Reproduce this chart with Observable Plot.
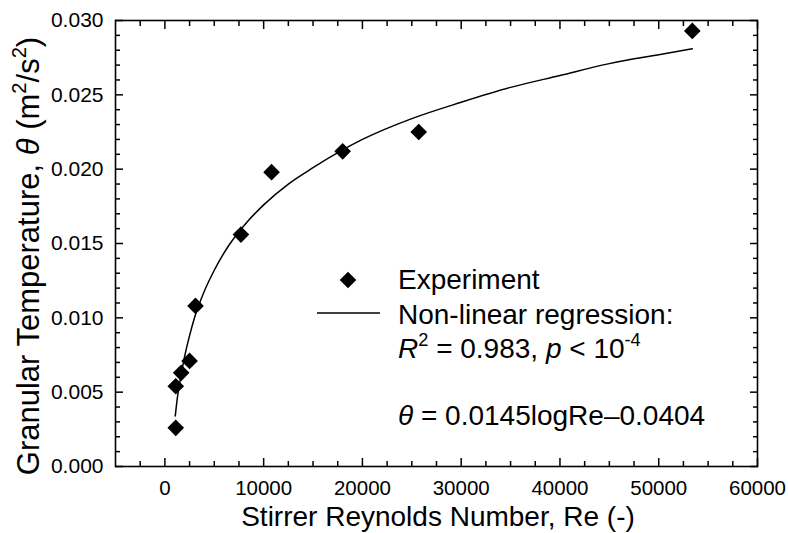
<!DOCTYPE html>
<html><head><meta charset="utf-8">
<script src="https://cdn.jsdelivr.net/npm/d3@7"></script>
<script src="https://cdn.jsdelivr.net/npm/@observablehq/plot@0.6"></script>
<style>
body{margin:0;background:#fff}
svg{font-family:"Liberation Sans",Arial,Helvetica,sans-serif}
</style>
</head><body><div id="chart"></div>
<script>
const expRe    = [1100, 1100, 1650, 2500, 3100, 7700, 10800, 18000, 25700, 53400];
const expTheta = [0.0026, 0.0054, 0.0063, 0.0071, 0.0108, 0.0156, 0.0198, 0.0212, 0.0225, 0.0293];

// Regression curve points
const fitRe    = [1050, 1300, 1600, 2000, 2500, 3000, 4000, 5000, 6500, 8000, 10000, 12500, 15000, 20000, 25000, 30000, 35000, 40000, 45000, 50000, 53400];
const fitTheta = [0.0034, 0.0048, 0.0060, 0.0074, 0.0088, 0.0100, 0.0118, 0.0132, 0.0149, 0.0162, 0.0176, 0.0190, 0.0201, 0.0220, 0.0234, 0.0245, 0.0255, 0.0263, 0.0271, 0.0277, 0.0281];

// Axis ticks
const xMajor = [0, 10000, 20000, 30000, 40000, 50000, 60000];
const xMinor = d3.range(-2500, 60000, 2500).filter(v => v % 10000 !== 0);
const yMajor = [0, 0.005, 0.010, 0.015, 0.020, 0.025, 0.030];
const yMinor = d3.range(1, 30).filter(v => v % 5 !== 0).map(v => v / 1000);

const exp = expRe.map((r, i) => ({Re: r, theta: expTheta[i]}));
const fit = fitRe.map((r, i) => ({Re: r, theta: fitTheta[i]}));

const blank = () => "";
const tickStyle = {strokeWidth: 1.5, label: null, tickFormat: blank};

const plot = Plot.plot({
  width: 788, height: 533,
  marginLeft: 115, marginRight: 31, marginTop: 20, marginBottom: 67,
  x: {domain: [-5000, 60000]},
  y: {domain: [0, 0.030]},
  style: {fontFamily: '"Liberation Sans",Arial,sans-serif', color: "black", background: "white"},
  marks: [
    // inward ticks on all four sides
    Plot.axisX(xMinor, {anchor: "bottom", tickSize: -5, ...tickStyle}),
    Plot.axisX(xMajor, {anchor: "bottom", tickSize: -8, ...tickStyle}),
    Plot.axisX(xMinor, {anchor: "top", tickSize: -5, ...tickStyle}),
    Plot.axisX(xMajor, {anchor: "top", tickSize: -8, ...tickStyle}),
    Plot.axisY(yMinor, {anchor: "left", tickSize: -5, ...tickStyle}),
    Plot.axisY(yMajor, {anchor: "left", tickSize: -8, ...tickStyle}),
    Plot.axisY(yMinor, {anchor: "right", tickSize: -5, ...tickStyle}),
    Plot.axisY(yMajor, {anchor: "right", tickSize: -8, ...tickStyle}),
    // tick labels
    Plot.axisX(xMajor, {anchor: "bottom", tickSize: 0, tickPadding: 14, fontSize: 20.5, label: null, tickFormat: d => String(d)}),
    Plot.axisY(yMajor, {anchor: "left", tickSize: 0, tickPadding: 12, fontSize: 21, label: null, tickFormat: d3.format(".3f")}),
    Plot.frame({stroke: "black", strokeWidth: 1.6}),
    Plot.line(fit, {x: "Re", y: "theta", curve: "monotone-x", stroke: "black", strokeWidth: 1.5}),
    Plot.dot(exp, {x: "Re", y: "theta", symbol: "diamond2", r: 7.5, fill: "black", stroke: "none"})
  ]
});
document.getElementById("chart").appendChild(plot);

const svg = d3.select(plot);
function rich(x, y, parts, opts = {}) {
  const fs = opts.fontSize || 28;
  const t = svg.append("text")
    .attr("x", x).attr("y", y)
    .attr("font-size", fs)
    .attr("fill", "black")
    .attr("text-anchor", opts.anchor || "start");
  if (opts.rotate) t.attr("transform", `rotate(-90 ${x} ${y})`);
  let shifted = false;
  for (const [txt, st] of parts) {
    const s = t.append("tspan").text(txt);
    if (st && st.includes("i")) s.attr("font-style", "italic");
    if (st && st.includes("sup")) {
      s.attr("font-size", fs * 0.65);
      if (!shifted) { s.attr("dy", -fs * 0.42); shifted = true; }
    } else if (shifted) {
      s.attr("dy", fs * 0.42); shifted = false;
    }
  }
  return t;
}

// axis titles
rich(438, 526, [["Stirrer Reynolds Number, Re (-)"]], {anchor: "middle", fontSize: 28});
rich(39, 256, [["Granular Temperature, "], ["θ", "i"], [" (m"], ["2", "sup"], ["/s"], ["2", "sup"], [")"]], {anchor: "middle", fontSize: 31, rotate: true});

// legend
svg.append("path")
  .attr("transform", "translate(348,280)")
  .attr("d", d3.symbol(d3.symbolDiamond2, Math.PI * 7.5 * 7.5)())
  .attr("fill", "black");
svg.append("line")
  .attr("x1", 317).attr("x2", 380).attr("y1", 313).attr("y2", 313)
  .attr("stroke", "black").attr("stroke-width", 1.5);
rich(398, 289, [["Experiment"]]);
rich(398, 324, [["Non-linear regression:"]]);
rich(398, 358, [["R", "i"], ["2", "sup"], [" = 0.983, "], ["p", "i"], [" < 10"], ["-4", "sup"]]);
rich(398, 425, [["θ", "i"], [" = 0.0145logRe–0.0404"]]);
</script>
</body></html>
